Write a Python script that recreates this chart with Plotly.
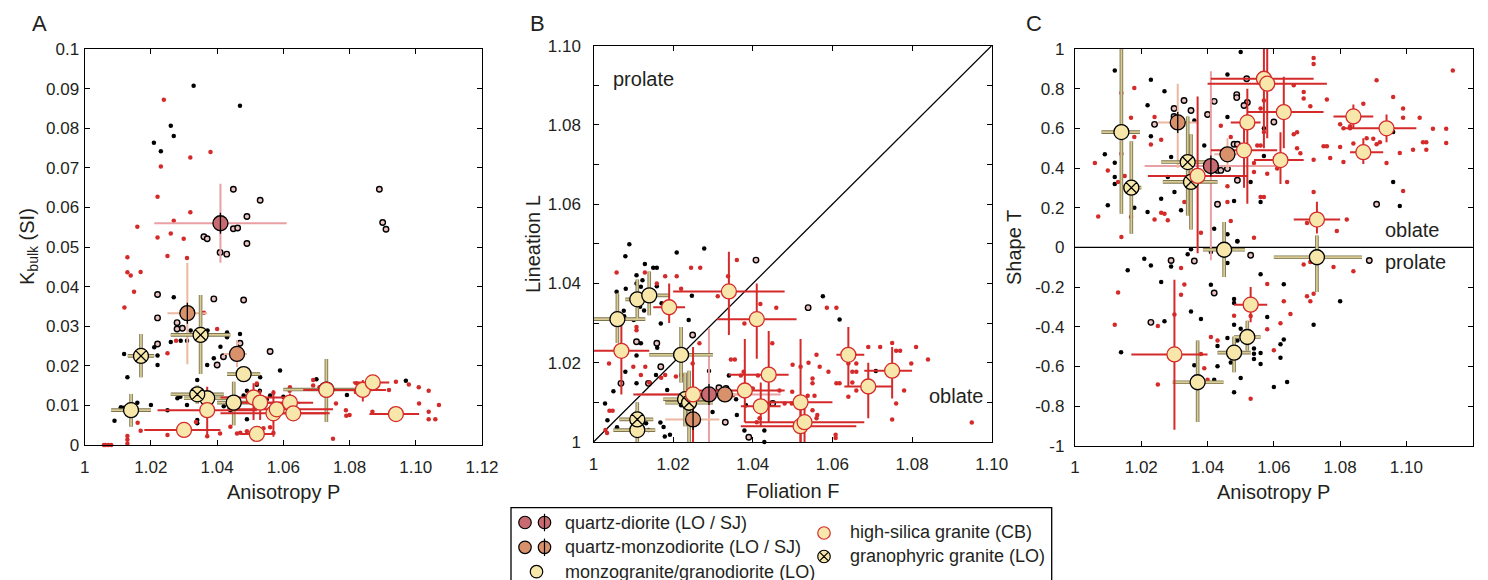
import plotly.graph_objects as go

W, H = 1488, 580

# ---------------- tick labels ----------------
P_TICKS = [1.0, 1.02, 1.04, 1.06, 1.08, 1.10, 1.12]
P_LABELS = ["1", "1.02", "1.04", "1.06", "1.08", "1.10", "1.12"]
K_TICKS = [0, 0.01, 0.02, 0.03, 0.04, 0.05, 0.06, 0.07, 0.08, 0.09, 0.1]
K_LABELS = ["0", "0.01", "0.02", "0.03", "0.04", "0.05", "0.06", "0.07", "0.08", "0.09", "0.1"]
F_TICKS = [1.0, 1.02, 1.04, 1.06, 1.08, 1.10]
F_LABELS = ["1", "1.02", "1.04", "1.06", "1.08", "1.10"]
L_TICKS = [1.0, 1.02, 1.04, 1.06, 1.08, 1.10]
L_LABELS = ["1", "1.02", "1.04", "1.06", "1.08", "1.10"]
L_MINOR = [1.01, 1.03, 1.05, 1.07, 1.09]
T_TICKS = [-1, -0.8, -0.6, -0.4, -0.2, 0, 0.2, 0.4, 0.6, 0.8, 1]
T_LABELS = ["-1", "-0.8", "-0.6", "-0.4", "-0.2", "0", "0.2", "0.4", "0.6", "0.8", "1"]

# reference lines
B_DIAG = [1.0, 1.10]
C_ZERO_X = [1.0, 1.12]
C_ZERO_Y = [0.0, 0.0]

# ---------------- panel A: P vs K (individual specimens) ----------------
A_BLACK = [(1.0329, 0.0907), (1.0469, 0.0857), (1.026, 0.0806), (1.0269, 0.078), (1.0209, 0.0763),
           (1.023, 0.0742), (1.0269, 0.0373), (1.032, 0.0289), (1.0371, 0.0289), (1.043, 0.0284),
           (1.0469, 0.028), (1.043, 0.0272), (1.026, 0.026), (1.0309, 0.0263), (1.029, 0.0263),
           (1.021, 0.0247), (1.041, 0.0248), (1.0469, 0.0236), (1.0119, 0.023), (1.0169, 0.0218),
           (1.022, 0.0226), (1.039, 0.0219), (1.022, 0.0202), (1.037, 0.0202), (1.059, 0.0188),
           (1.0129, 0.0171), (1.053, 0.0171), (1.070, 0.0166), (1.034, 0.0164), (1.097, 0.0162),
           (1.049, 0.0137), (1.0529, 0.0137), (1.0289, 0.0122), (1.0109, 0.0095), (1.0159, 0.0107),
           (1.020, 0.0101), (1.009, 0.0061), (1.0119, 0.0094), (1.025, 0.0088), (1.0309, 0.0101),
           (1.034, 0.0063), (1.049, 0.0065), (1.0792, 0.0126), (1.072, 0.0129), (1.047, 0.0258),
           (1.052, 0.0152), (1.028, 0.0118), (1.042, 0.0098), (1.046, 0.0102), (1.048, 0.0125),
           (1.050, 0.012), (1.055, 0.0115), (1.056, 0.0125), (1.060, 0.0122), (1.044, 0.0087),
           (1.034, 0.0055), (1.011, 0.0095)]
A_OPEN = [(1.0449, 0.0646), (1.053, 0.0618), (1.049, 0.0577), (1.0449, 0.0546), (1.0462, 0.0548),
          (1.036, 0.0526), (1.037, 0.0521), (1.049, 0.0509), (1.0409, 0.0486), (1.0429, 0.0482),
          (1.089, 0.0646), (1.090, 0.0562), (1.091, 0.0545), (1.022, 0.038), (1.039, 0.0369),
          (1.048, 0.0366), (1.022, 0.0321), (1.0279, 0.0309), (1.0279, 0.0293), (1.0295, 0.0295),
          (1.022, 0.0255), (1.0469, 0.0257), (1.056, 0.0236), (1.040, 0.0202), (1.0419, 0.0223)]
A_RED = [(1.0239, 0.0872), (1.0319, 0.0726), (1.038, 0.074), (1.023, 0.0703), (1.022, 0.0627),
         (1.0319, 0.0588), (1.0269, 0.0566), (1.0159, 0.0551), (1.022, 0.0524), (1.026, 0.0534),
         (1.0299, 0.0521), (1.025, 0.0477), (1.0309, 0.0472), (1.0129, 0.0474), (1.0129, 0.0436),
         (1.0139, 0.0428), (1.0169, 0.0437), (1.0149, 0.0387), (1.012, 0.0347), (1.036, 0.0334),
         (1.040, 0.0293), (1.025, 0.0232), (1.0276, 0.0263), (1.0058, 0.0), (1.0062, 0.0),
         (1.0071, 0.0), (1.008, 0.0), (1.0129, 0.0003), (1.0129, 0.0013), (1.0129, 0.0023),
         (1.0169, 0.0036), (1.016, 0.0056), (1.044, 0.0046), (1.046, 0.0029), (1.047, 0.0031),
         (1.049, 0.0035), (1.054, 0.0042), (1.0409, 0.0029), (1.075, 0.0016), (1.080, 0.0076),
         (1.0819, 0.0134), (1.082, 0.0156), (1.0919, 0.0139), (1.094, 0.016), (1.0979, 0.0153),
         (1.1009, 0.0146), (1.1039, 0.0137), (1.101, 0.0105), (1.1039, 0.0084), (1.1039, 0.0065),
         (1.1059, 0.0065), (1.107, 0.0101), (1.0869, 0.0084), (1.069, 0.0164), (1.069, 0.015),
         (1.0789, 0.0088), (1.079, 0.0074), (1.0759, 0.0105), (1.0619, 0.0137), (1.062, 0.0146),
         (1.0709, 0.0146), (1.0819, 0.0139), (1.052, 0.0155), (1.057, 0.0132), (1.060, 0.0095),
         (1.056, 0.0045), (1.057, 0.0030), (1.037, 0.0022), (1.025, 0.0025), (1.0336, 0.0058)]

# group means: (x, x_low, x_high, y, y_low, y_high)
A_CB = [(1.030, 1.018, 1.041, 0.0038, 0.0034, 0.0042),
        (1.037, 1.022, 1.052, 0.0088, 0.0021, 0.0147),
        (1.051, 1.041, 1.061, 0.0120, 0.0063, 0.0156),
        (1.052, 1.047, 1.057, 0.0028, 0.0017, 0.0042),
        (1.053, 1.044, 1.065, 0.0107, 0.0063, 0.0139),
        (1.057, 1.041, 1.073, 0.0080, 0.0021, 0.0139),
        (1.058, 1.043, 1.075, 0.0090, 0.0082, 0.0098),
        (1.062, 1.054, 1.069, 0.0107, 0.0072, 0.0130),
        (1.063, 1.057, 1.074, 0.0080, 0.0066, 0.0095),
        (1.073, 1.066, 1.080, 0.0139, 0.0122, 0.0160),
        (1.084, 1.077, 1.091, 0.0139, 0.0110, 0.0164),
        (1.087, 1.081, 1.092, 0.0158, 0.0143, 0.0170),
        (1.094, 1.086, 1.101, 0.0078, 0.0073, 0.0083)]
A_MZ = [(1.014, 1.008, 1.020, 0.0088, 0.0046, 0.0129),
        (1.037, 1.030, 1.045, 0.0118, 0.0105, 0.0135),
        (1.045, 1.040, 1.050, 0.0107, 0.0050, 0.0160),
        (1.048, 1.043, 1.053, 0.0179, 0.0165, 0.0193),
        (1.073, 1.060, 1.087, 0.0140, 0.0058, 0.0217)]
A_GR = [(1.017, 1.013, 1.021, 0.0225, 0.0171, 0.0280),
        (1.035, 1.026, 1.044, 0.0278, 0.0179, 0.0379),
        (1.034, 1.026, 1.042, 0.0128, 0.0105, 0.0150)]
A_QD_SJ = [(1.041, 1.021, 1.061, 0.0560, 0.0460, 0.0660)]
A_QMD_SJ = [(1.031, 1.025, 1.037, 0.0333, 0.0204, 0.0460)]
A_QMD_LO = [(1.046, 1.042, 1.049, 0.0230, 0.0197, 0.0265)]

# ---------------- panel B: F vs L ----------------
B_BLACK = [(1.009, 1.0499), (1.008, 1.0469), (1.0209, 1.0478), (1.0278, 1.0488), (1.0129, 1.0449),
           (1.015, 1.044), (1.0159, 1.044), (1.0108, 1.0421), (1.0123, 1.0408), (1.0119, 1.0392),
           (1.0108, 1.040), (1.0058, 1.0379), (1.0081, 1.0387), (1.0159, 1.0393), (1.0148, 1.0379),
           (1.0171, 1.035), (1.0247, 1.0369), (1.0117, 1.0341), (1.0127, 1.0332), (1.0076, 1.0331),
           (1.0077, 1.0317), (1.0239, 1.0308), (1.0169, 1.0299), (1.0101, 1.0308), (1.0119, 1.0249),
           (1.0160, 1.0238), (1.0108, 1.0218), (1.0207, 1.0213), (1.008, 1.0177), (1.0108, 1.0148),
           (1.0157, 1.0169), (1.0258, 1.0129), (1.029, 1.0179), (1.034, 1.0168), (1.0358, 1.0108),
           (1.0383, 1.0093), (1.036, 1.0068), (1.0379, 1.0029), (1.0429, 1.0029), (1.0429, 1.0),
           (1.0029, 1.0097), (1.0059, 1.0037), (1.0132, 1.0047), (1.0168, 1.0049), (1.0176, 1.0038),
           (1.0138, 1.003), (1.0192, 1.0018), (1.0179, 1.0014), (1.0185, 1.0131), (1.0576, 1.0368),
           (1.0618, 1.0309), (1.0709, 1.0179), (1.022, 1.0093), (1.0299, 1.0076), (1.0050, 1.0128),
           (1.0035, 1.0055)]
B_OPEN = [(1.0408, 1.0459), (1.0249, 1.027), (1.0159, 1.0249), (1.0169, 1.019), (1.0138, 1.0148),
          (1.0069, 1.0148), (1.0315, 1.0137), (1.0333, 1.0135), (1.045, 1.0097), (1.0539, 1.0339),
          (1.0331, 1.005), (1.0108, 1.0253), (1.039, 1.0012)]
B_RED = [(1.0058, 1.0428), (1.0129, 1.0428), (1.0159, 1.040), (1.018, 1.0418), (1.0209, 1.0418),
         (1.0245, 1.044), (1.0268, 1.044), (1.022, 1.0387), (1.036, 1.0459), (1.0338, 1.0418),
         (1.0312, 1.0368), (1.0419, 1.0348), (1.0459, 1.0339), (1.0379, 1.0299), (1.0586, 1.0339),
         (1.0449, 1.0249), (1.0108, 1.029), (1.0108, 1.0282), (1.0266, 1.0249), (1.0249, 1.0198),
         (1.0039, 1.0198), (1.010, 1.019), (1.013, 1.019), (1.0119, 1.0169), (1.018, 1.0169),
         (1.022, 1.0169), (1.0207, 1.0165), (1.014, 1.015), (1.017, 1.0162), (1.004, 1.0079),
         (1.0048, 1.0079), (1.0345, 1.0208), (1.0355, 1.0208), (1.037, 1.0168), (1.0413, 1.0168),
         (1.040, 1.0135), (1.0375, 1.0118), (1.034, 1.0118), (1.035, 1.0118), (1.0467, 1.013),
         (1.0499, 1.0127), (1.048, 1.0097), (1.0498, 1.0097), (1.050, 1.0195), (1.052, 1.019),
         (1.054, 1.020), (1.0568, 1.019), (1.056, 1.022), (1.055, 1.016), (1.055, 1.0148),
         (1.0538, 1.0117), (1.0555, 1.0117), (1.055, 1.008), (1.0562, 1.0068), (1.056, 1.006),
         (1.059, 1.0177), (1.061, 1.0148), (1.0618, 1.0148), (1.0608, 1.001), (1.0608, 1.0018),
         (1.061, 1.0339), (1.065, 1.022), (1.0655, 1.022), (1.064, 1.0198), (1.066, 1.0198),
         (1.065, 1.0177), (1.066, 1.0177), (1.066, 1.013), (1.065, 1.015), (1.064, 1.0114),
         (1.069, 1.024), (1.072, 1.024), (1.075, 1.025), (1.076, 1.023), (1.077, 1.023),
         (1.076, 1.0097), (1.075, 1.0057), (1.078, 1.013), (1.0798, 1.0198), (1.081, 1.024),
         (1.084, 1.0208), (1.095, 1.0049), (1.0377, 1.0177), (1.041, 1.005), (1.0417, 1.006),
         (1.0435, 1.0097), (1.003, 1.003), (1.0034, 1.0023)]

B_CB = [(1.007, 1.000, 1.014, 1.023, 1.012, 1.030),
        (1.025, 1.010, 1.035, 1.012, 1.000, 1.024),
        (1.038, 1.026, 1.048, 1.013, 1.005, 1.026),
        (1.042, 1.037, 1.047, 1.009, 1.004, 1.015),
        (1.019, 1.015, 1.023, 1.034, 1.030, 1.040),
        (1.052, 1.037, 1.066, 1.004, 1.000, 1.011),
        (1.053, 1.038, 1.068, 1.005, 1.000, 1.010),
        (1.044, 1.034, 1.049, 1.017, 1.005, 1.028),
        (1.052, 1.044, 1.060, 1.010, 1.000, 1.026),
        (1.041, 1.031, 1.051, 1.031, 1.021, 1.040),
        (1.069, 1.063, 1.075, 1.014, 1.006, 1.020),
        (1.064, 1.061, 1.068, 1.022, 1.014, 1.029),
        (1.075, 1.068, 1.080, 1.018, 1.011, 1.024),
        (1.034, 1.020, 1.048, 1.038, 1.027, 1.048)]
B_MZ = [(1.006, 1.000, 1.013, 1.031, 1.025, 1.0375),
        (1.011, 1.008, 1.014, 1.036, 1.031, 1.041),
        (1.014, 1.012, 1.019, 1.037, 1.032, 1.043),
        (1.022, 1.014, 1.030, 1.022, 1.015, 1.029),
        (1.011, 1.005, 1.0155, 1.003, 1.000, 1.008)]
B_GR = [(1.011, 1.0065, 1.015, 1.0057, 1.002, 1.010),
        (1.023, 1.0175, 1.028, 1.0108, 1.004, 1.0175),
        (1.024, 1.018, 1.030, 1.0099, 1.000, 1.018)]
B_QD_SJ = [(1.029, 1.011, 1.047, 1.012, 1.000, 1.0287)]
B_QMD_SJ = [(1.025, 1.018, 1.0316, 1.0057, 1.000, 1.016)]
B_QMD_LO = [(1.033, 1.028, 1.037, 1.012, 1.010, 1.014)]

# ---------------- panel C: P vs T ----------------
C_BLACK = [(1.012, 0.892), (1.050, 0.985), (1.0229, 0.845), (1.027, 0.787), (1.0219, 0.716),
           (1.046, 0.872), (1.036, 0.64), (1.046, 0.657), (1.057, 0.6), (1.0229, 0.56),
           (1.039, 0.514), (1.057, 0.46), (1.012, 0.427), (1.009, 0.469), (1.012, 0.355),
           (1.012, 0.32), (1.029, 0.455), (1.028, 0.355), (1.030, 0.279), (1.026, 0.245),
           (1.032, 0.187), (1.0219, 0.178), (1.0099, 0.212), (1.0179, 0.2), (1.053, 0.33),
           (1.048, 0.234), (1.056, 0.229), (1.042, 0.094), (1.046, 0.066), (1.049, 0.032),
           (1.096, 0.329), (1.098, 0.208), (1.096, 0.582),
           (1.0209, -0.057), (1.0229, -0.091), (1.0159, -0.116), (1.029, -0.096), (1.034, -0.035),
           (1.035, -0.01), (1.041, -0.024), (1.046, -0.079), (1.049, 0.03), (1.056, -0.136),
           (1.026, -0.175), (1.035, -0.323), (1.027, -0.373), (1.0139, -0.529), (1.041, -0.188),
           (1.048, -0.26), (1.048, -0.28), (1.038, -0.361), (1.048, -0.39), (1.050, -0.41),
           (1.049, -0.47), (1.052, -0.47), (1.046, -0.457), (1.043, -0.497), (1.054, -0.51),
           (1.054, -0.537), (1.047, -0.58), (1.056, -0.533), (1.036, -0.595), (1.043, -0.6),
           (1.042, -0.667), (1.042, -0.677), (1.050, -0.659), (1.054, -0.563), (1.056, -0.588),
           (1.048, -0.73), (1.060, -0.704), (1.064, -0.679), (1.058, -0.351), (1.063, -0.186),
           (1.063, -0.464), (1.062, -0.489), (1.062, -0.556), (1.072, -0.39), (1.080, -0.272)]
C_OPEN = [(1.0488, 0.77), (1.0488, 0.755), (1.0518, 0.85), (1.052, 0.73), (1.051, 0.715),
          (1.0299, 0.7), (1.0299, 0.66), (1.0329, 0.74), (1.035, 0.69), (1.024, 0.62),
          (1.042, 0.736), (1.040, 0.67), (1.060, 0.632), (1.048, 0.52), (1.049, 0.52),
          (1.043, 0.388), (1.044, 0.388), (1.049, 0.338), (1.046, 0.397), (1.043, 0.217),
          (1.091, 0.217), (1.029, -0.066), (1.036, -0.069), (1.053, -0.04), (1.0888, -0.066),
          (1.0229, -0.378), (1.042, -0.23)]
C_RED = [(1.014, 0.778), (1.0179, 0.803), (1.0169, 0.654), (1.0179, 0.556), (1.006, 0.425),
         (1.0099, 0.388), (1.013, 0.329), (1.015, 0.36), (1.014, 0.472), (1.0169, 0.279),
         (1.014, 0.052), (1.0169, 0.153), (1.007, 0.156), (1.0229, 0.518), (1.024, 0.657),
         (1.026, 0.543), (1.024, 0.141), (1.026, 0.175), (1.027, 0.17), (1.028, 0.136),
         (1.033, 0.229), (1.038, 0.074), (1.044, 0.613), (1.047, 0.556), (1.046, 0.497),
         (1.046, 0.308), (1.046, 0.229), (1.047, 0.133), (1.054, 0.425), (1.054, 0.38),
         (1.055, 0.514), (1.056, 0.514), (1.056, 0.254), (1.057, 0.254), (1.058, 0.371),
         (1.057, 0.582), (1.057, 0.74), (1.056, 0.70), (1.054, 0.049), (1.061, 0.397),
         (1.064, 0.33), (1.066, 0.57), (1.067, 0.58), (1.066, 0.817), (1.069, 0.783),
         (1.069, 0.75), (1.067, 0.5), (1.068, 0.475), (1.071, 0.711), (1.072, 0.955),
         (1.072, 0.925), (1.072, 0.442), (1.072, 0.279), (1.070, 0.123), (1.076, 0.745),
         (1.075, 0.51), (1.076, 0.51), (1.077, 0.45), (1.080, 0.506), (1.079, 0.082),
         (1.082, 0.141), (1.080, 0.62), (1.081, 0.60), (1.083, 0.61), (1.083, 0.60),
         (1.081, 0.43), (1.084, 0.523), (1.087, 0.724), (1.088, 0.55), (1.090, 0.547),
         (1.091, 0.842), (1.091, 0.52), (1.092, 0.53), (1.094, 0.425), (1.096, 0.758),
         (1.098, 0.476), (1.099, 0.70), (1.099, 0.654), (1.099, 0.284), (1.102, 0.492),
         (1.104, 0.654), (1.105, 0.53), (1.106, 0.53), (1.106, 0.492), (1.108, 0.598),
         (1.112, 0.598), (1.112, 0.526), (1.114, 0.892),
         (1.013, -0.228), (1.012, -0.39), (1.025, -0.397), (1.025, -0.692), (1.032, -0.104),
         (1.033, -0.187), (1.032, -0.239), (1.030, -0.338), (1.038, -0.538), (1.039, -0.61),
         (1.040, -0.667), (1.041, -0.452), (1.043, -0.469), (1.048, -0.345), (1.051, -0.435),
         (1.053, -0.346), (1.053, -0.763), (1.058, -0.185), (1.058, -0.413), (1.060, -0.519),
         (1.062, -0.383), (1.063, -0.272), (1.065, -0.336), (1.069, -0.086), (1.071, -0.074),
         (1.070, -0.247), (1.071, -0.272), (1.072, -0.234), (1.078, -0.099), (1.084, -0.121)]

C_CB = [(1.030, 1.017, 1.040, -0.54, -0.92, -0.163),
        (1.037, 1.022, 1.052, 0.36, -0.03, 0.76),
        (1.051, 1.041, 1.061, 0.489, 0.30, 0.62),
        (1.052, 1.047, 1.056, 0.63, 0.22, 0.80),
        (1.053, 1.048, 1.058, -0.289, -0.377, -0.20),
        (1.057, 1.041, 1.072, 0.85, 0.50, 1.0),
        (1.058, 1.040, 1.076, 0.825, 0.55, 1.0),
        (1.062, 1.054, 1.069, 0.44, 0.32, 0.58),
        (1.063, 1.052, 1.075, 0.682, 0.50, 0.86),
        (1.073, 1.066, 1.080, 0.14, 0.07, 0.23),
        (1.084, 1.078, 1.090, 0.66, 0.60, 0.72),
        (1.087, 1.083, 1.093, 0.48, 0.42, 0.55),
        (1.094, 1.081, 1.103, 0.60, 0.53, 0.67)]
C_MZ = [(1.014, 1.008, 1.0196, 0.581, 0.17, 1.0),
        (1.037, 1.0295, 1.0448, -0.68, -0.88, -0.47),
        (1.045, 1.0386, 1.0513, -0.012, -0.15, 0.128),
        (1.048, 1.043, 1.053, -0.531, -0.63, -0.45),
        (1.052, 1.048, 1.056, -0.452, -0.52, -0.37),
        (1.073, 1.060, 1.0866, -0.05, -0.225, 0.06)]
C_GR = [(1.017, 1.0145, 1.020, 0.301, 0.069, 0.535),
        (1.034, 1.026, 1.042, 0.43, 0.16, 0.66),
        (1.035, 1.0265, 1.043, 0.33, 0.09, 0.57)]
C_QD_SJ = [(1.041, 1.021, 1.061, 0.41, -0.065, 0.888)]
C_QMD_SJ = [(1.031, 1.025, 1.037, 0.63, 0.40, 0.825)]
C_QMD_LO = [(1.046, 1.042, 1.049, 0.469, 0.40, 0.55)]

# ---------------- legend text ----------------
LEG_LEFT = ["quartz-diorite (LO / SJ)", "quartz-monzodiorite (LO / SJ)", "monzogranite/granodiorite (LO)"]
LEG_RIGHT = ["high-silica granite (CB)", "granophyric granite (LO)"]

# ---------------- styles ----------------
FONT = "Liberation Sans, Arial, Helvetica, sans-serif"
TXT = "#231f20"
RED = "#d42a2a"
YEL = "#f8e7aa"
QD_FILL = "#c96a70"
QD_ERR = "#e8a0a5"
QMD_FILL = "#d8916b"
QMD_ERR = "#ecb89f"
KHAKI = "#d8cc94"
KHAKI_EDGE = "#7d7450"
BIG = 15
EDGE_W = 1.3

fig = go.Figure()


def axes_ids(p):
    return ("x", "y") if p == 1 else ("x%d" % p, "y%d" % p)


def dots(pts, p, color, line_color=None, size=4.5, lw=1.0):
    xa, ya = axes_ids(p)
    fig.add_trace(go.Scatter(
        x=[q[0] for q in pts], y=[q[1] for q in pts], mode="markers", xaxis=xa, yaxis=ya,
        marker=dict(size=size, color=color,
                    line=dict(width=lw if line_color else 0, color=line_color or color)),
        cliponaxis=False, showlegend=False, hoverinfo="skip"))


def errs(rows, p, color, thick):
    xa, ya = axes_ids(p)
    fig.add_trace(go.Scatter(
        x=[r[0] for r in rows], y=[r[3] for r in rows], mode="markers", xaxis=xa, yaxis=ya,
        marker=dict(size=1, color="rgba(0,0,0,0)"),
        error_x=dict(type="data", symmetric=False, array=[r[2] - r[0] for r in rows],
                     arrayminus=[r[0] - r[1] for r in rows], color=color, thickness=thick, width=0),
        error_y=dict(type="data", symmetric=False, array=[r[5] - r[3] for r in rows],
                     arrayminus=[r[3] - r[4] for r in rows], color=color, thickness=thick, width=0),
        showlegend=False, hoverinfo="skip"))


def marks(rows, p, fill, edge, symbol="circle", size=BIG):
    xa, ya = axes_ids(p)
    fig.add_trace(go.Scatter(
        x=[r[0] for r in rows], y=[r[3] for r in rows], mode="markers", xaxis=xa, yaxis=ya,
        marker=dict(size=size, color=fill, symbol=symbol, line=dict(width=EDGE_W, color=edge)),
        cliponaxis=False, showlegend=False, hoverinfo="skip"))


def sj_line(rows, p, size=BIG):
    xa, ya = axes_ids(p)
    fig.add_trace(go.Scatter(
        x=[r[0] for r in rows], y=[r[3] for r in rows], mode="markers", xaxis=xa, yaxis=ya,
        marker=dict(size=size, symbol="line-ns", color="black", line=dict(width=EDGE_W, color="black")),
        cliponaxis=False, showlegend=False, hoverinfo="skip"))


panels = [
    (1, A_BLACK, A_OPEN, A_RED, A_CB, A_MZ, A_GR, A_QD_SJ, A_QMD_SJ, A_QMD_LO),
    (2, B_BLACK, B_OPEN, B_RED, B_CB, B_MZ, B_GR, B_QD_SJ, B_QMD_SJ, B_QMD_LO),
    (3, C_BLACK, C_OPEN, C_RED, C_CB, C_MZ, C_GR, C_QD_SJ, C_QMD_SJ, C_QMD_LO),
]

# reference lines
fig.add_trace(go.Scatter(x=B_DIAG, y=B_DIAG, mode="lines", xaxis="x2", yaxis="y2",
                         line=dict(color="black", width=1.3), showlegend=False, hoverinfo="skip"))
fig.add_trace(go.Scatter(x=C_ZERO_X, y=C_ZERO_Y, mode="lines", xaxis="x3", yaxis="y3",
                         line=dict(color="black", width=1.3), showlegend=False, hoverinfo="skip"))

for (p, blk, opn, red, cb, mz, gr, qd_sj, qmd_sj, qmd_lo) in panels:
    dots(blk, p, "black")
    dots(opn, p, "#ecc4c4", line_color="black", size=5.5, lw=1.4)
    dots(red, p, RED)
    errs(qd_sj, p, QD_ERR, 2)
    errs(qmd_sj + qmd_lo, p, QMD_ERR, 2)
    errs(mz + gr, p, KHAKI_EDGE, 3.6)
    errs(mz + gr, p, KHAKI, 1.8)
    errs(cb, p, RED, 2)
    marks(qd_sj, p, QD_FILL, "black")
    marks(qmd_sj + qmd_lo, p, QMD_FILL, "black")
    sj_line(qd_sj + qmd_sj, p)
    marks(mz, p, YEL, "black")
    marks(gr, p, YEL, "black", symbol="circle-x")
    marks(cb, p, YEL, RED)

# ---------------- legend (on a hidden pixel-scaled axis) ----------------
LX0, LX1, LY0, LY1 = 500, 1060, 495, 580
leg_rows = [(525, 522.5, QD_FILL, "black", "circle", False), (544.5, 522.5, QD_FILL, "black", "circle", True),
            (525, 547.3, QMD_FILL, "black", "circle", False), (544.5, 547.3, QMD_FILL, "black", "circle", True),
            (536.5, 571.7, YEL, "black", "circle", False),
            (824, 533, YEL, RED, "circle", False), (824, 556.5, YEL, "black", "circle-x", False)]
for (lx, ly, fc, ec, sym, line) in leg_rows:
    fig.add_trace(go.Scatter(x=[lx], y=[ly], mode="markers", xaxis="x4", yaxis="y4",
                             marker=dict(size=12.5, color=fc, symbol=sym, line=dict(width=1.2, color=ec)),
                             cliponaxis=False, showlegend=False, hoverinfo="skip"))
    if line:
        fig.add_trace(go.Scatter(x=[lx], y=[ly], mode="markers", xaxis="x4", yaxis="y4",
                                 marker=dict(size=12.5, symbol="line-ns", color="black",
                                             line=dict(width=1.2, color="black")),
                                 cliponaxis=False, showlegend=False, hoverinfo="skip"))


def X(px):
    return px / W


def Y(py):
    return 1 - py / H


def axis(dom, rng, tv, tt, standoff, minor=None):
    d = dict(domain=dom, range=rng, tickvals=tv, ticktext=tt, ticks="inside", ticklen=5,
             tickwidth=1.2, tickcolor="black", showline=True, linecolor="black", linewidth=1.3,
             mirror="ticks", showgrid=False, zeroline=False, automargin=False, fixedrange=True,
             ticklabelstandoff=standoff, tickfont=dict(family=FONT, size=17, color=TXT))
    if minor:
        d["minor"] = dict(tickvals=minor, ticks="inside", ticklen=5, tickwidth=1.2, tickcolor="black",
                          showgrid=False)
    return d


AXL, AXR, AYT, AYB = 84.7, 482.0, 49.0, 445.0
BXL, BXR, BYT, BYB = 593.5, 991.7, 45.7, 442.0
CXL, CXR, CYT, CYB = 1075.0, 1472.7, 49.0, 445.7

layout = dict(
    width=W, height=H, margin=dict(l=0, r=0, t=0, b=0),
    paper_bgcolor="white", plot_bgcolor="rgba(0,0,0,0)", showlegend=False,
    font=dict(family=FONT, color=TXT),
    xaxis=axis([X(AXL), X(AXR)], [1.0, 1.12], P_TICKS, P_LABELS, 6),
    yaxis=axis([Y(AYB), Y(AYT)], [0, 0.1], K_TICKS, K_LABELS, 1),
    xaxis2=axis([X(BXL), X(BXR)], [1.0, 1.10], F_TICKS, F_LABELS, 6),
    yaxis2=axis([Y(BYB), Y(BYT)], [1.0, 1.10], L_TICKS, L_LABELS, 8, minor=L_MINOR),
    xaxis3=axis([X(CXL), X(CXR)], [1.0, 1.12], P_TICKS, P_LABELS, 6),
    yaxis3=axis([Y(CYB), Y(CYT)], [-1, 1], T_TICKS, T_LABELS, 6),
    xaxis4=dict(domain=[X(LX0), X(LX1)], range=[LX0, LX1], visible=False, fixedrange=True),
    yaxis4=dict(domain=[Y(LY1), Y(LY0)], range=[LY1, LY0], visible=False, fixedrange=True),
)
for a, b in (("xaxis", "y"), ("yaxis", "x"), ("xaxis2", "y2"), ("yaxis2", "x2"),
             ("xaxis3", "y3"), ("yaxis3", "x3"), ("xaxis4", "y4"), ("yaxis4", "x4")):
    layout[a]["anchor"] = b
fig.update_layout(**layout)

ann = []


def txt(x, y, s, size, xanchor="center", yanchor="middle", angle=0, xref="paper", yref="paper"):
    ann.append(dict(x=x, y=y, xref=xref, yref=yref, text=s, showarrow=False, xanchor=xanchor,
                    yanchor=yanchor, textangle=angle, font=dict(family=FONT, size=size, color=TXT)))


# panel letters
txt(X(39), Y(23), "A", 22)
txt(X(537), Y(23), "B", 22)
txt(X(1034), Y(23), "C", 22)
# axis titles
txt(X((AXL + AXR) / 2), Y(492), "Anisotropy P", 20)
txt(X((BXL + BXR) / 2), Y(491), "Foliation F", 20)
txt(X((CXL + CXR) / 2), Y(492), "Anisotropy P", 20)
txt(X(28), Y(247), "K<sub>bulk</sub> (SI)", 20, angle=-90)
txt(X(533), Y(244), "Lineation L", 20, angle=-90)
txt(X(1014), Y(247), "Shape T", 20, angle=-90)
# field labels
txt(1.0044, 1.0915, "prolate", 20, xanchor="left", xref="x2", yref="y2")
txt(1.0985, 1.0117, "oblate", 20, xanchor="right", xref="x2", yref="y2")
txt(1.0928, 0.086, "oblate", 20, xanchor="left", xref="x3", yref="y3")
txt(1.0929, -0.074, "prolate", 20, xanchor="left", xref="x3", yref="y3")
# legend text
for i, s in enumerate(LEG_LEFT):
    txt(X(562.5), Y([522.5, 547.3, 571.7][i]), s, 18, xanchor="left")
for i, s in enumerate(LEG_RIGHT):
    txt(X(848), Y([532, 556][i]), s, 18, xanchor="left")

fig.update_layout(annotations=ann)
fig.add_shape(type="rect", xref="paper", yref="paper", x0=X(511), x1=X(1051.7), y0=-0.1, y1=Y(507.7),
              line=dict(color="black", width=1.3), fillcolor="rgba(0,0,0,0)")

fig.write_html("out.html", config={"displayModeBar": False},
               post_script="document.body.style.margin='0px';")
